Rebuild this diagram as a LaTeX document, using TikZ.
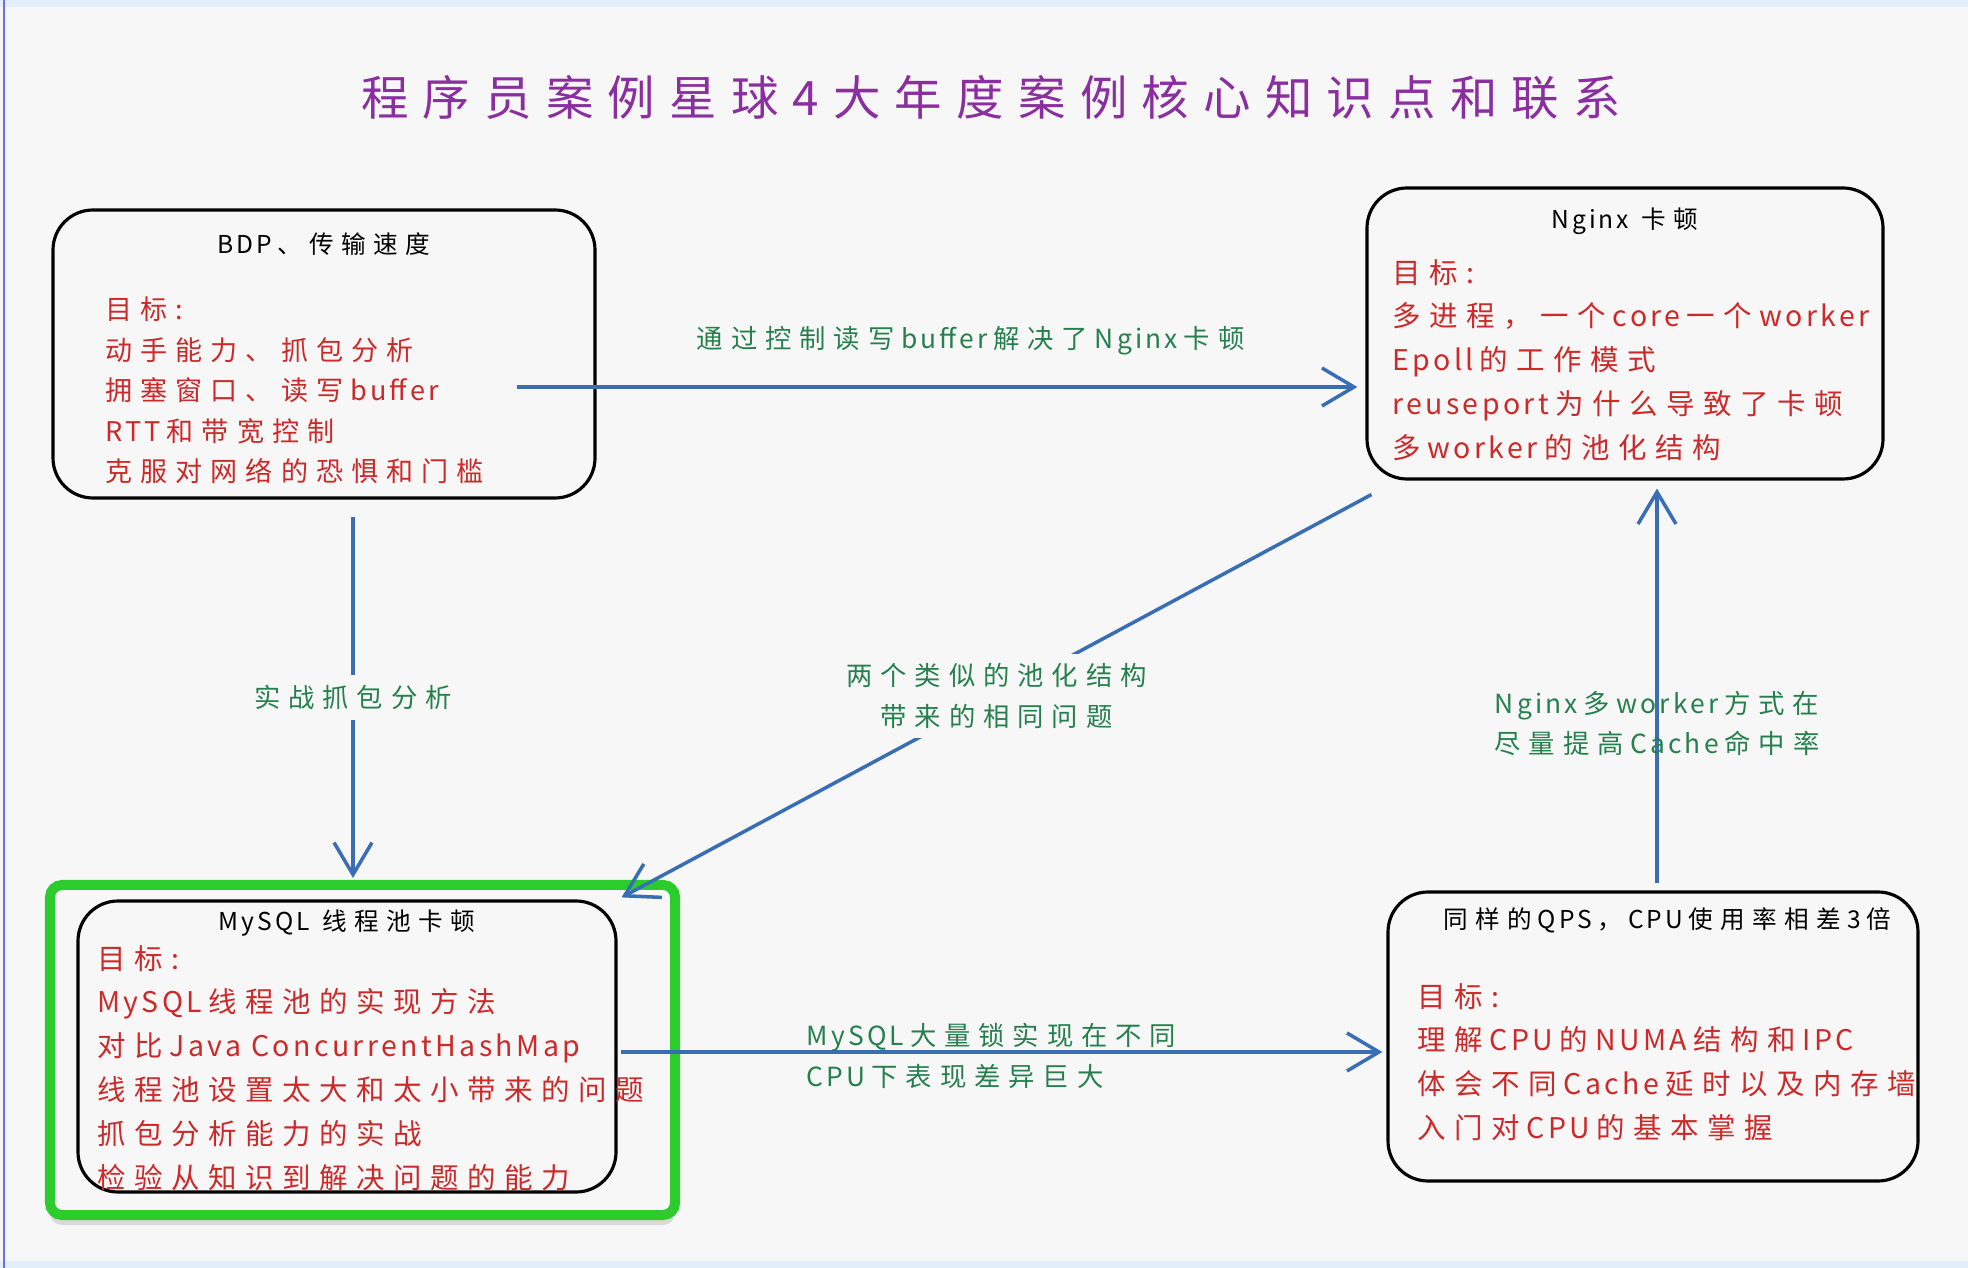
\documentclass[tikz,border=0pt]{standalone}
\usepackage{fontspec}
\usepackage{tikz}
\usetikzlibrary{
    positioning,
    arrows.meta,
    shadows
}
\newfontfamily\letracjk[LetterSpace=30]{Noto Sans CJK SC}
\newfontfamily\letralat[LetterSpace=12]{Noto Sans CJK SC}
% latin dentro de una linea / al empezar una linea
\newcommand{\latn}[1]{\hspace{0.25em}{\letralat #1}\hspace{0.22em}}
\newcommand{\latI}[1]{{\letralat #1}\hspace{0.22em}}

\definecolor{fondo}{RGB}{247,247,247}
\definecolor{moradoTitulo}{RGB}{138,46,160}
\definecolor{rojoTexto}{RGB}{204,42,42}
\definecolor{verdeTexto}{RGB}{38,128,78}
\definecolor{azulFlecha}{RGB}{58,110,180}
\definecolor{verdeFoco}{RGB}{44,204,44}
\definecolor{bandaAzul}{RGB}{226,238,250}
\definecolor{marcoAzul}{RGB}{110,110,230}

\tikzset{
    >={Straight Barb[length=0.32cm,width=0.38cm]},
    caja/.style={
        draw=black,
        line width=0.9pt,
        rounded corners=0.4cm,
        inner sep=0pt
    },
    titulo/.style={
        font=\letracjk\fontsize{7}{9}\selectfont,
        text=black,
        inner sep=0pt
    },
    lista/.style={
        font=\letracjk\fontsize{8.1}{12.5}\selectfont,
        text=rojoTexto,
        align=left,
        inner sep=0pt
    },
    etiqueta/.style={
        font=\letracjk\fontsize{7.5}{11.5}\selectfont,
        text=verdeTexto,
        inner sep=0.1cm
    },
    flecha/.style={
        ->,
        color=azulFlecha,
        line width=1pt
    }
}

\begin{document}
\begin{tikzpicture}[
    >={Straight Barb[length=0.32cm,width=0.38cm]}
]

    % Fondo
    \fill[fondo] (0,0) rectangle (19.68,-12.68);
    \useasboundingbox (0,0) rectangle (19.68,-12.68);
    \fill[bandaAzul] (0,0) rectangle (19.68,-0.07);
    \fill[bandaAzul] (0,-12.61) rectangle (19.68,-12.68);
    \draw[marcoAzul, line width=0.6pt] (0.04,0) -- (0.04,-12.68);

    % Titulo
    \node[font=\letracjk\fontsize{13.5}{16}\selectfont, text=moradoTitulo]
        (titulo) at (9.91,-0.98) {程序员案例星球4大年度案例核心知识点和联系};

    % Casos
    \node[caja, minimum width=5.42cm, minimum height=2.88cm] (bdp)   at (3.24,-3.54)    {};
    \node[caja, minimum width=5.16cm, minimum height=2.91cm] (nginx) at (16.25,-3.335)  {};
    \node[
        fill=fondo,
        draw=verdeFoco,
        line width=0.1cm,
        rounded corners=0.12cm,
        minimum width=6.25cm,
        minimum height=3.30cm,
        drop shadow={shadow xshift=0cm, shadow yshift=-0.1cm, opacity=0.25}
    ] (foco) at (3.625,-10.50) {};
    \node[caja, minimum width=5.38cm, minimum height=2.91cm] (mysql) at (3.47,-10.465)  {};
    \node[caja, minimum width=5.30cm, minimum height=2.89cm] (cpu)   at (16.53,-10.365) {};

    % Textos de cada caso
    \node[titulo, below=0.24cm of bdp.north] (bdpTitulo) {\latI{BDP}、传输速度};
    \node[lista, font=\letracjk\fontsize{7.7}{11.5}\selectfont,
          below right=0.88cm and 0.53cm of bdp.north west] (bdpLista) {
        目标:\\
        动手能力、抓包分析\\
        拥塞窗口、读写\latn{buffer}\\
        \latI{RTT}和带宽控制\\
        克服对网络的恐惧和门槛};

    \node[titulo, below=0.21cm of nginx.north] (nginxTitulo) {{\letralat Nginx} 卡顿};
    \node[lista, below right=0.72cm and 0.26cm of nginx.north west] (nginxLista) {
        目标:\\
        多进程，一个\latn{core}一个\latn{worker}\\
        \latI{Epoll}的工作模式\\
        \latI{reuseport}为什么导致了卡顿\\
        多\latn{worker}的池化结构};

    \node[titulo, below=0.10cm of mysql.north] (mysqlTitulo) {{\letralat MySQL} 线程池卡顿};
    \node[lista, below right=0.45cm and 0.20cm of mysql.north west] (mysqlLista) {
        目标:\\
        \latI{MySQL}线程池的实现方法\\
        对比\latn{Java ConcurrentHashMap}\\
        线程池设置太大和太小带来的问题\\
        抓包分析能力的实战\\
        检验从知识到解决问题的能力};

    \node[titulo, below=0.17cm of cpu.north, xshift=0.14cm] (cpuTitulo) {同样的\latn{QPS}，\latn{CPU}使用率相差\latn{3}倍};
    \node[lista, below right=0.92cm and 0.30cm of cpu.north west] (cpuLista) {
        目标:\\
        理解\latn{CPU}的\latn{NUMA}结构和\latn{IPC}\\
        体会不同\latn{Cache}延时以及内存墙\\
        入门对\latn{CPU}的基本掌握};

    % Puntos de salida y llegada
    \coordinate (bdpSale)    at ([xshift=-0.80cm, yshift=-0.33cm]bdp.east);
    \coordinate (nginxLlega) at ([xshift=-0.08cm]bdpSale -| nginx.west);
    \coordinate (bdpBaja)    at ([xshift=0.29cm, yshift=-0.17cm]bdp.south);
    \coordinate (focoLlega)  at ([yshift=0.02cm]bdpBaja |- foco.north);
    \coordinate (nginxSale)  at ([shift={(0.06cm,-0.14cm)}]nginx.south west);
    \coordinate (mysqlLlega) at ([shift={(0.04cm,0.02cm)}]mysql.north east);
    \coordinate (mysqlSale)  at ([shift={(0.03cm,-0.055cm)}]mysql.east);
    \coordinate (cpuLlega)   at ([xshift=-0.04cm]mysqlSale -| cpu.west);
    \coordinate (cpuSale)    at ([shift={(0.04cm,0.07cm)}]cpu.north);
    \coordinate (nginxBaja)  at ([yshift=-0.08cm]cpuSale |- nginx.south);

    % Conexiones
    \path[flecha]
        (bdpSale)
            edge node[etiqueta, pos=0.54, above=0.2cm]
                {通过控制读写\latn{buffer}解决了\latn{Nginx}卡顿} (nginxLlega)
        (bdpBaja)
            edge node[etiqueta, fill=fondo]
                {实战抓包分析} (focoLlega)
        (nginxSale)
            edge node[etiqueta, fill=fondo, align=center]
                {两个类似的池化结构\\带来的相同问题} (mysqlLlega)
        (mysqlSale)
            edge node[etiqueta, align=left, pos=0.487, yshift=-0.04cm]
                {\latI{MySQL}大量锁实现在不同\\\latI{CPU}下表现差异巨大} (cpuLlega)
        (cpuSale)
            edge node[etiqueta, align=center, pos=0.405]
                {\latI{Nginx}多\latn{worker}方式在\\尽量提高\latn{Cache}命中率} (nginxBaja);

\end{tikzpicture}
\end{document}
